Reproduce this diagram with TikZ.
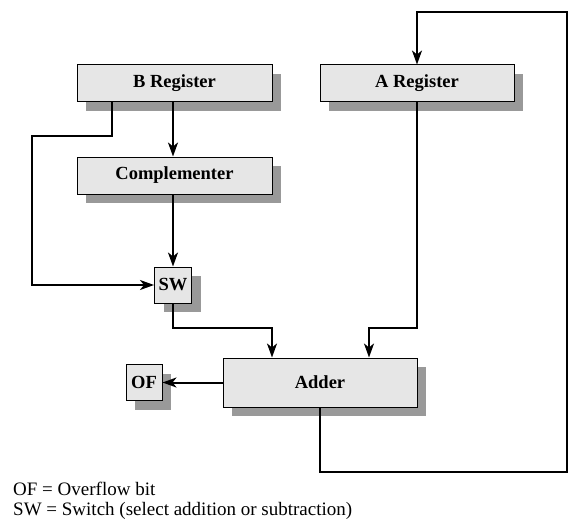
\documentclass[tikz,border=0pt]{standalone}
\usepackage{fontspec}
\setmainfont{Liberation Serif}
\usetikzlibrary{arrows.meta,shadows}
\definecolor{boxfill}{HTML}{E6E6E6}
\definecolor{shadowgray}{HTML}{999999}
\begin{document}
\begin{tikzpicture}[x=1pt,y=-1pt,
  blk/.style={draw=black,line width=1pt,fill=boxfill,inner sep=0pt,
    font=\fontsize{18.5}{20}\selectfont\bfseries,
    drop shadow={shadow xshift=9pt,shadow yshift=-9pt,fill=shadowgray,opacity=1}},
  conn/.style={line width=2pt},
  arr/.style={conn,-{Stealth[length=14pt,width=10pt,inset=4pt]}},
  legend/.style={anchor=base west,inner sep=0pt,font=\fontsize{19}{21}\selectfont}]
\useasboundingbox (0,0) rectangle (584,527);
\node[blk,minimum width=195pt,minimum height=37pt] (B) at (174.5,83.5) {B Register};
\node[blk,minimum width=194pt,minimum height=37pt] (A) at (417,83.5) {A Register};
\node[blk,minimum width=195pt,minimum height=37pt] (C) at (174.5,175.5) {Complementer};
\node[blk,minimum width=37pt,minimum height=36pt] (SW) at (173,285) {SW};
\node[blk,minimum width=194pt,minimum height=49pt] (AD) at (320,382.5) {Adder};
\node[blk,minimum width=36pt,minimum height=36pt] (OF) at (144,382.5) {OF};
\coordinate (k1) at (32,136);
\coordinate (k2) at (272,328);
\coordinate (k3) at (369,328);
\coordinate (k4) at (567,472);
\coordinate (k5) at (567,12);
\draw[arr] (SW.north |- B.south) -- (SW.north |- C.north);
\draw[arr] ([xshift=35pt]B.south west) |- (k1) |- (SW.west);
\draw[arr] (SW.north |- C.south) -- (SW.north);
\draw[arr] (SW.south) |- (k2) -- (k2 |- AD.north);
\draw[arr] (A.south) |- (k3) -- (k3 |- AD.north);
\draw[arr] (AD.west) -- (OF.east);
\draw[arr] (AD.south) |- (k4) -- (k5) -| (A.north);
\node[legend] (l1) at (13,495) {OF = Overflow bit};
\node[legend] (l2) at (13,515) {SW = Switch (select addition or subtraction)};
\end{tikzpicture}
\end{document}
